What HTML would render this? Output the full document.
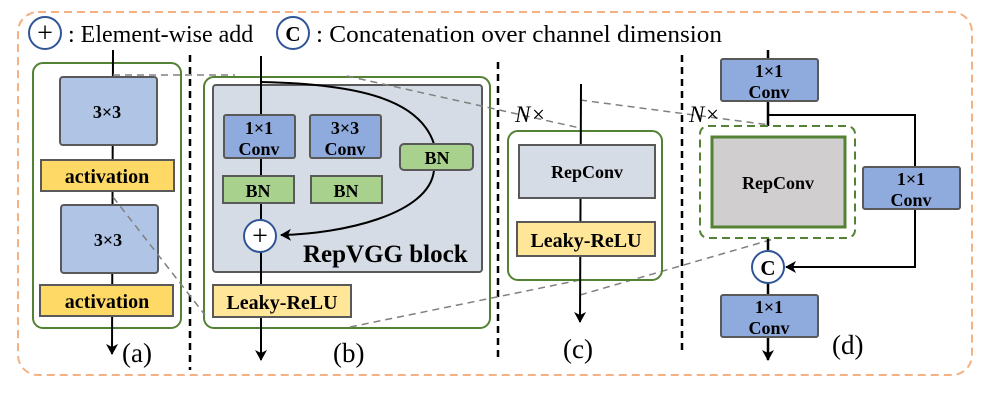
<!DOCTYPE html>
<html><head><meta charset="utf-8"><style>
html,body{margin:0;padding:0;background:#fff;width:997px;height:402px;overflow:hidden}
text{font-family:"Liberation Serif",serif}
.b{font-weight:bold;font-size:18px}
.l{font-weight:bold;font-size:20px}
</style></head><body>
<svg width="997" height="402" viewBox="0 0 997 402" xmlns="http://www.w3.org/2000/svg">
<defs>
<marker id="ar" markerWidth="12" markerHeight="12" refX="10" refY="6" orient="auto" markerUnits="userSpaceOnUse"><path d="M0,0 L11,6 L0,12 L3,6 z" fill="#000"/></marker>
</defs>
<rect x="18" y="12" width="954" height="363" rx="20" fill="none" stroke="#f4b183" stroke-width="2" stroke-dasharray="8,5"/>
<circle cx="45" cy="33" r="16" fill="#fff" stroke="#2f5597" stroke-width="2"/>
<text x="45" y="42" font-size="28" text-anchor="middle">+</text>
<text x="68" y="42" font-size="24">: Element-wise add</text>
<circle cx="293" cy="33" r="16" fill="#fff" stroke="#2f5597" stroke-width="2"/>
<text x="293" y="41" font-size="21" font-weight="bold" text-anchor="middle">C</text>
<text x="316" y="42" font-size="24" textLength="406" lengthAdjust="spacingAndGlyphs">: Concatenation over channel dimension</text>
<g stroke="#000" stroke-width="2.5" stroke-dasharray="7,5">
<line x1="190" y1="55" x2="190" y2="370"/>
<line x1="498" y1="62" x2="498" y2="362"/>
<line x1="682" y1="55" x2="682" y2="355"/>
</g>
<!-- (a) -->
<rect x="33" y="63" width="148" height="265" rx="10" fill="none" stroke="#548235" stroke-width="2"/>
<line x1="113" y1="50" x2="112" y2="354" stroke="#000" stroke-width="2" marker-end="url(#ar)"/>
<rect x="60" y="77" width="97" height="68" rx="3" fill="#b0c4e6" stroke="#595959" stroke-width="2"/>
<text x="107" y="118" class="b" text-anchor="middle">3×3</text>
<rect x="41" y="160" width="133" height="31" fill="#ffd966" stroke="#595959" stroke-width="2"/>
<text x="107" y="183" class="l" text-anchor="middle">activation</text>
<rect x="61" y="205" width="97" height="68" rx="3" fill="#b0c4e6" stroke="#595959" stroke-width="2"/>
<text x="108" y="246" class="b" text-anchor="middle">3×3</text>
<rect x="40" y="285" width="133" height="31" fill="#ffd966" stroke="#595959" stroke-width="2"/>
<text x="107" y="308" class="l" text-anchor="middle">activation</text>
<text x="122" y="362" font-size="27">(a)</text>
<!-- (b) -->
<rect x="204" y="77" width="286" height="251" rx="10" fill="#fff" stroke="#548235" stroke-width="2"/>
<rect x="213" y="85" width="269" height="187" rx="3" fill="#d6dce5" stroke="#595959" stroke-width="2"/>
<line x1="261" y1="56" x2="261" y2="360" stroke="#000" stroke-width="2" marker-end="url(#ar)"/>
<path d="M261,82 C360,84 420,100 434,144" fill="none" stroke="#000" stroke-width="2"/>
<path d="M434,170 C430,215 340,234 281,235" fill="none" stroke="#000" stroke-width="2" marker-end="url(#ar)"/>
<rect x="224" y="115" width="71" height="43" rx="2" fill="#8faadc" stroke="#595959" stroke-width="2"/>
<text x="259" y="134" class="b" text-anchor="middle">1×1</text><text x="259" y="155" class="b" text-anchor="middle">Conv</text>
<rect x="310" y="115" width="71" height="43" rx="2" fill="#8faadc" stroke="#595959" stroke-width="2"/>
<text x="345" y="134" class="b" text-anchor="middle">3×3</text><text x="345" y="155" class="b" text-anchor="middle">Conv</text>
<rect x="400" y="144" width="73" height="26" rx="4" fill="#a9d18e" stroke="#595959" stroke-width="2"/>
<text x="437" y="164" class="b" text-anchor="middle">BN</text>
<rect x="223" y="176" width="71" height="27" fill="#a9d18e" stroke="#595959" stroke-width="2"/>
<text x="258" y="197" class="b" text-anchor="middle">BN</text>
<rect x="311" y="176" width="71" height="27" fill="#a9d18e" stroke="#595959" stroke-width="2"/>
<text x="346" y="197" class="b" text-anchor="middle">BN</text>
<circle cx="260" cy="236" r="16" fill="#fff" stroke="#2f5597" stroke-width="2"/>
<text x="260" y="245" font-size="28" text-anchor="middle">+</text>
<text x="303" y="262" font-size="25" font-weight="bold">RepVGG block</text>
<rect x="213" y="285" width="138" height="32" fill="#ffe699" stroke="#595959" stroke-width="2"/>
<text x="282" y="309" class="l" text-anchor="middle">Leaky-ReLU</text>
<text x="333" y="362" font-size="27">(b)</text>
<g stroke="#808080" stroke-width="1.5" stroke-dasharray="7,5" fill="none">
<line x1="113" y1="75" x2="235" y2="75"/>
<line x1="347" y1="76" x2="580" y2="128"/>
<line x1="113" y1="197" x2="205" y2="315"/>
<line x1="350" y1="327" x2="580" y2="280"/>
<line x1="580" y1="100" x2="770" y2="125"/>
<line x1="580" y1="295" x2="777" y2="238"/>
</g>
<!-- (c) -->
<text x="515" y="122" font-size="23" font-style="italic">N</text><text x="532" y="122" font-size="23">×</text>
<rect x="508" y="131" width="154" height="149" rx="10" fill="none" stroke="#548235" stroke-width="2"/>
<line x1="581" y1="84" x2="580" y2="322" stroke="#000" stroke-width="2" marker-end="url(#ar)"/>
<rect x="519" y="145" width="136" height="53" fill="#d6dce5" stroke="#595959" stroke-width="2"/>
<text x="587" y="178" class="b" text-anchor="middle">RepConv</text>
<rect x="517" y="222" width="138" height="34" fill="#ffe699" stroke="#595959" stroke-width="2"/>
<text x="586" y="247" class="l" text-anchor="middle">Leaky-ReLU</text>
<text x="563" y="358" font-size="27">(c)</text>
<!-- (d) -->
<text x="689" y="122" font-size="23" font-style="italic">N</text><text x="706" y="122" font-size="23">×</text>
<line x1="768" y1="50" x2="768" y2="360" stroke="#000" stroke-width="2.5" marker-end="url(#ar)"/>
<polyline points="768,115 915,115 915,267 786,267" fill="none" stroke="#000" stroke-width="2" marker-end="url(#ar)"/>
<rect x="721" y="59" width="97" height="42" rx="2" fill="#8faadc" stroke="#595959" stroke-width="2"/>
<text x="769" y="77" class="b" text-anchor="middle">1×1</text><text x="769" y="98" class="b" text-anchor="middle">Conv</text>
<rect x="700" y="126" width="155" height="112" rx="8" fill="#fff" stroke="#548235" stroke-width="2" stroke-dasharray="8,5"/>
<rect x="712" y="137" width="133" height="90" fill="#d0cece" stroke="#548235" stroke-width="3"/>
<text x="778" y="189" class="b" text-anchor="middle">RepConv</text>
<rect x="863" y="167" width="97" height="42" rx="2" fill="#8faadc" stroke="#595959" stroke-width="2"/>
<text x="911" y="185" class="b" text-anchor="middle">1×1</text><text x="911" y="206" class="b" text-anchor="middle">Conv</text>
<circle cx="768" cy="267" r="16" fill="#fff" stroke="#2f5597" stroke-width="2"/>
<text x="768" y="275" font-size="21" font-weight="bold" text-anchor="middle">C</text>
<rect x="721" y="295" width="97" height="42" rx="2" fill="#8faadc" stroke="#595959" stroke-width="2"/>
<text x="769" y="313" class="b" text-anchor="middle">1×1</text><text x="769" y="334" class="b" text-anchor="middle">Conv</text>
<text x="832" y="354" font-size="27">(d)</text>
</svg>
</body></html>
